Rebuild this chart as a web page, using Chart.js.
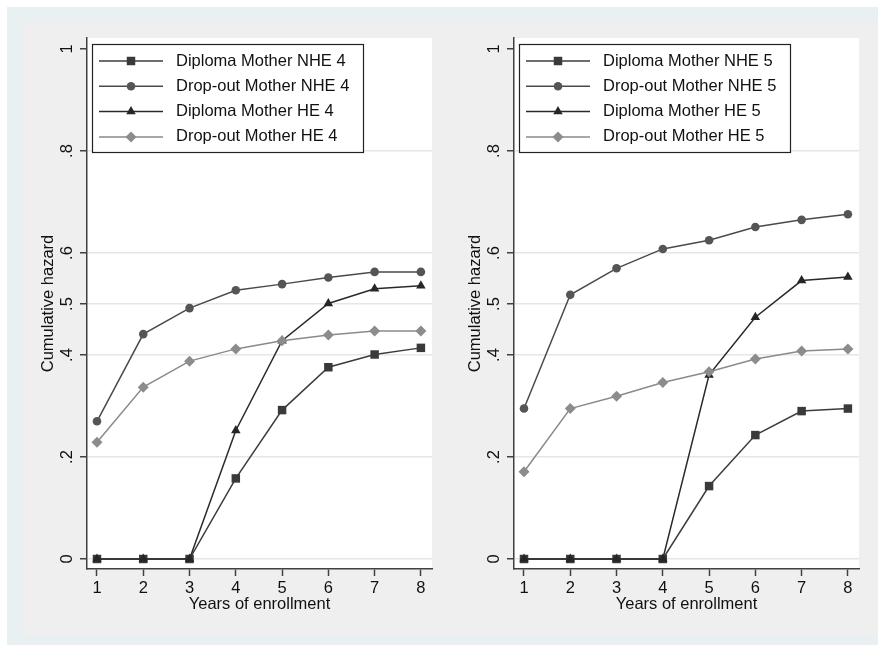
<!DOCTYPE html>
<html>
<head>
<meta charset="utf-8">
<script src="https://cdn.jsdelivr.net/npm/chart.js"></script>
<style>
  body { margin: 0; background: #fff; }
  #frame { position: absolute; left: 7px; top: 7px; width: 871px; height: 638px; background: #e8f0f2; }
  #inner { position: absolute; left: 22px; top: 22px; width: 856px; height: 613px; background: #efefef; }
  canvas { position: absolute; top: 22px; }
</style>
</head>
<body>
<div id="frame"></div>
<div id="inner"></div>
<canvas id="left" width="416" height="613" style="left:22px"></canvas>
<canvas id="right" width="429" height="613" style="left:449px"></canvas>
<script>
// data
const years = [1, 2, 3, 4, 5, 6, 7, 8];
const yTickValues = [0, 0.2, 0.4, 0.5, 0.6, 0.8, 1];
const yTickLabels = ['0', '.2', '.4', '.5', '.6', '.8', '1'];

const labels4 = ['Diploma Mother NHE 4', 'Drop-out Mother NHE 4', 'Diploma Mother HE 4', 'Drop-out Mother HE 4'];
const diplomaNHE4 = [0, 0, 0, 0.158, 0.292, 0.376, 0.401, 0.414];
const dropoutNHE4 = [0.270, 0.441, 0.492, 0.527, 0.539, 0.552, 0.563, 0.563];
const diplomaHE4  = [0, 0, 0, 0.252, 0.428, 0.501, 0.530, 0.536];
const dropoutHE4  = [0.229, 0.337, 0.388, 0.412, 0.428, 0.439, 0.447, 0.447];

const labels5 = ['Diploma Mother NHE 5', 'Drop-out Mother NHE 5', 'Diploma Mother HE 5', 'Drop-out Mother HE 5'];
const diplomaNHE5 = [0, 0, 0, 0, 0.143, 0.243, 0.290, 0.295];
const dropoutNHE5 = [0.295, 0.518, 0.570, 0.608, 0.625, 0.651, 0.665, 0.676];
const diplomaHE5  = [0, 0, 0, 0, 0.361, 0.474, 0.546, 0.553];
const dropoutHE5  = [0.171, 0.295, 0.319, 0.346, 0.367, 0.392, 0.408, 0.412];

const FONT = 'Liberation Sans, Arial, sans-serif';
const FS = 16.5;
const AXIS = '#404040';

// marker look per series: Stata style
const styles = [
  { point: 'rect',     radius: 6,   line: '#3c3c3c', fill: '#3a3a3a' },
  { point: 'circle',   radius: 4.3, line: '#4a4a4a', fill: '#555555' },
  { point: 'triangle', radius: 5.5, line: '#2a2a2a', fill: '#262626' },
  { point: 'rectRot',  radius: 5.5, line: '#8a8a8a', fill: '#8c8c8c' }
];

function drawMarker(ctx, s, x, y) {
  const r = s.radius;
  ctx.fillStyle = s.fill;
  ctx.beginPath();
  if (s.point === 'rect') {
    const h = r * Math.SQRT1_2;
    ctx.rect(x - h, y - h, 2 * h, 2 * h);
  } else if (s.point === 'circle') {
    ctx.arc(x, y, r, 0, Math.PI * 2);
  } else if (s.point === 'triangle') {
    ctx.moveTo(x, y - r);
    ctx.lineTo(x + r * Math.sin(2 * Math.PI / 3), y - r * Math.cos(2 * Math.PI / 3));
    ctx.lineTo(x + r * Math.sin(4 * Math.PI / 3), y - r * Math.cos(4 * Math.PI / 3));
    ctx.closePath();
  } else {
    ctx.moveTo(x, y - r); ctx.lineTo(x + r, y); ctx.lineTo(x, y + r); ctx.lineTo(x - r, y);
    ctx.closePath();
  }
  ctx.fill();
}

const whiteArea = {
  id: 'whiteArea',
  beforeDraw(chart) {
    const a = chart.chartArea, ctx = chart.ctx;
    ctx.save();
    ctx.fillStyle = '#ffffff';
    ctx.fillRect(a.left, a.top, a.right - a.left, a.bottom - a.top);
    ctx.restore();
  }
};

const boxLegend = {
  id: 'boxLegend',
  afterDraw(chart) {
    const a = chart.chartArea, ctx = chart.ctx;
    const bx = a.left + 5, by = a.top + 6;
    ctx.save();
    ctx.fillStyle = '#ffffff';
    ctx.fillRect(bx, by, 271, 108);
    ctx.strokeStyle = '#222';
    ctx.lineWidth = 1.2;
    ctx.strokeRect(bx + 0.5, by + 0.5, 271, 108);
    chart.data.datasets.forEach((ds, i) => {
      const s = styles[i];
      const y = a.top + 23 + i * 25.3;
      ctx.strokeStyle = s.line;
      ctx.lineWidth = 1.5;
      ctx.beginPath();
      ctx.moveTo(a.left + 12, y);
      ctx.lineTo(a.left + 76, y);
      ctx.stroke();
      drawMarker(ctx, s, a.left + 44, y);
      ctx.fillStyle = '#111';
      ctx.font = FS + 'px ' + FONT;
      ctx.textBaseline = 'middle';
      ctx.textAlign = 'left';
      ctx.fillText(ds.label, a.left + 89, y);
    });
    ctx.restore();
  }
};

function makeChart(id, names, series, padRight) {
  const datasets = series.map((vals, i) => ({
    label: names[i],
    data: years.map((x, j) => ({ x: x, y: vals[j] })),
    borderColor: styles[i].line,
    backgroundColor: styles[i].fill,
    borderWidth: 1.5,
    pointStyle: styles[i].point,
    pointRadius: styles[i].radius,
    pointBorderWidth: 0,
    pointBackgroundColor: styles[i].fill,
    order: 4 - i,
    tension: 0
  }));
  return new Chart(document.getElementById(id), {
    type: 'line',
    data: { datasets: datasets },
    options: {
      responsive: false,
      animation: false,
      layout: { padding: { top: 16, right: padRight, left: 0, bottom: 0 } },
      plugins: { legend: { display: false }, tooltip: { enabled: false } },
      scales: {
        x: {
          type: 'linear',
          min: 0.784,
          max: 8.24,
          afterBuildTicks: s => { s.ticks = years.map(v => ({ value: v })); },
          afterFit: s => { s.height = 66; },
          grid: { drawOnChartArea: false, tickLength: 7, tickColor: AXIS, tickWidth: 1.5 },
          border: { color: AXIS, width: 1.5 },
          ticks: { color: '#111', font: { size: FS, family: FONT }, padding: 3, maxRotation: 0, autoSkip: false },
          title: { display: true, text: 'Years of enrollment', color: '#111', font: { size: FS, family: FONT }, padding: { top: 0, bottom: 21 } }
        },
        y: {
          type: 'linear',
          min: -0.0196,
          max: 1.0216,
          afterBuildTicks: s => { s.ticks = yTickValues.map(v => ({ value: v })); },
          afterFit: s => { s.width = 65; },
          grid: {
            color: c => (c.tick && c.tick.value === 1) ? 'rgba(0,0,0,0)' : '#e6e6e6',
            lineWidth: 1.5, tickLength: 7, tickColor: AXIS, tickWidth: 1.5
          },
          border: { color: AXIS, width: 1.5 },
          ticks: {
            color: '#111', font: { size: FS, family: FONT },
            minRotation: 90, maxRotation: 90, crossAlign: 'center', padding: 6, autoSkip: false,
            callback: v => yTickLabels[yTickValues.indexOf(v)]
          },
          title: { display: true, text: 'Cumulative hazard', color: '#111', font: { size: FS, family: FONT }, padding: { top: 17, bottom: 0 } }
        }
      }
    },
    plugins: [whiteArea, boxLegend]
  });
}

makeChart('left', labels4, [diplomaNHE4, dropoutNHE4, diplomaHE4, dropoutHE4], 6);
makeChart('right', labels5, [diplomaNHE5, dropoutNHE5, diplomaHE5, dropoutHE5], 19);
</script>
</body>
</html>
